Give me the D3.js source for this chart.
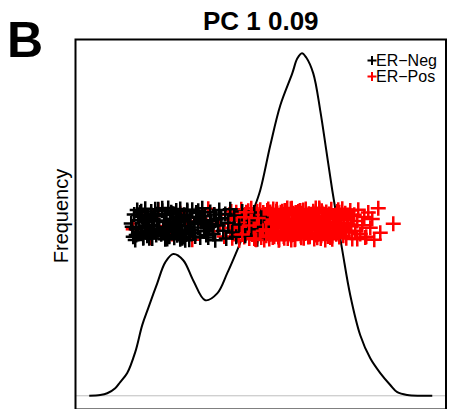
<!DOCTYPE html>
<html>
<head>
<meta charset="utf-8">
<script src="https://cdn.jsdelivr.net/npm/d3@7"></script>
<style>
  body { margin: 0; background: #fff; }
  svg { display: block; font-family: "Liberation Sans", Arial, sans-serif; }
</style>
</head>
<body>
<svg id="chart" width="454" height="409"></svg>
<script>
// density curve of PC1 scores (x = score, y = density)
const densityX = [-1.71, -1.60, -1.53, -1.45, -1.40, -1.33, -1.25, -1.18, -1.12, -1.03, -0.95, -0.87, -0.77, -0.67,
  -0.55, -0.43, -0.33, -0.23, -0.15, -0.07, 0.00, 0.10, 0.20, 0.32, 0.37, 0.417, 0.46, 0.53, 0.60, 0.66, 0.72,
  0.82, 0.90, 1.00, 1.10, 1.20, 1.30, 1.37, 1.47, 1.60, 1.72];
const densityY = [0, 0.002, 0.007, 0.021, 0.038, 0.063, 0.121, 0.196, 0.243, 0.312, 0.370, 0.393, 0.376, 0.320,
  0.265, 0.284, 0.340, 0.404, 0.459, 0.514, 0.570, 0.694, 0.805, 0.894, 0.935, 0.950, 0.938, 0.894, 0.791, 0.681, 0.570,
  0.404, 0.279, 0.168, 0.104, 0.063, 0.030, 0.010, 0.002, 0, 0];

// ER-Neg samples (PC1 score, jittered height)
const negX = [-1.29, -1.27, -1.26, -1.24, -1.23, -1.22, -1.21, -1.25, -1.28, -1.20,
  -1.19, -1.18, -1.17, -1.16, -1.15, -1.14, -1.13, -1.12, -1.11, -1.10, -1.09, -1.08, -1.07, -1.06, -1.05, -1.04, -1.03, -1.02, -1.01, -1.17, -1.13, -1.08,
  -0.99, -0.98, -0.97, -0.96, -0.95, -0.94, -0.93, -0.92, -0.91, -0.90, -0.89, -0.88, -0.87, -0.86, -0.85, -0.84, -0.83, -0.82, -0.81, -0.97, -0.93, -0.89, -0.86, -0.83,
  -0.80, -0.79, -0.78, -0.77, -0.76, -0.75, -0.74, -0.73, -0.72, -0.71, -0.70, -0.69, -0.68, -0.67, -0.66, -0.65, -0.63, -0.62, -0.61, -0.78,
  -0.59, -0.58, -0.56, -0.55, -0.53, -0.52, -0.50, -0.49, -0.47, -0.46, -0.45, -0.44, -0.42, -0.41, -0.54,
  -0.39, -0.37, -0.35, -0.34, -0.32, -0.30, -0.28, -0.26, -0.24, -0.21,
  -0.18, -0.15, -0.12, -0.09, -0.06, -0.03, 0.01, 0.04,
  -1.24, -1.19, -1.15, -1.11, -1.06, -1.02, -0.98, -0.94, -0.91, -0.87, -0.84, -0.80, -0.76, -0.73, -0.70,
  -0.66, -0.64, -0.60, -0.57, -0.51, -1.22, -1.14, -1.05, -0.95, -0.90, -0.82, -0.75, -0.69, -0.62, -0.48];
const negY = [0.478, 0.441, 0.503, 0.462, 0.515, 0.449, 0.487, 0.432, 0.469, 0.508,
  0.455, 0.496, 0.437, 0.481, 0.519, 0.466, 0.444, 0.499, 0.473, 0.452,
  0.511, 0.436, 0.490, 0.459, 0.505, 0.446, 0.484, 0.517, 0.463, 0.439,
  0.493, 0.471, 0.448, 0.513, 0.457, 0.486, 0.434, 0.501, 0.468, 0.521,
  0.443, 0.476, 0.509, 0.454, 0.491, 0.438, 0.465, 0.514, 0.482, 0.450,
  0.497, 0.461, 0.435, 0.506, 0.474, 0.445, 0.518, 0.488, 0.458, 0.440,
  0.502, 0.470, 0.447, 0.512, 0.483, 0.433, 0.495, 0.460, 0.516, 0.451,
  0.479, 0.442, 0.507, 0.467, 0.494, 0.437, 0.485, 0.520, 0.456, 0.498,
  0.464, 0.439, 0.510, 0.477, 0.449, 0.503, 0.431, 0.489, 0.472, 0.515,
  0.446, 0.492, 0.458, 0.504, 0.436, 0.480, 0.517, 0.453, 0.500, 0.441,
  0.475, 0.511, 0.444, 0.487, 0.462, 0.508, 0.434, 0.496, 0.469,
  0.446, 0.512, 0.470, 0.437, 0.498, 0.459, 0.520, 0.482, 0.441, 0.505,
  0.463, 0.434, 0.491, 0.515, 0.452, 0.476, 0.508, 0.439, 0.487, 0.468,
  0.501, 0.455, 0.517, 0.443, 0.480, 0.496, 0.431, 0.460, 0.513, 0.473];

// ER-Pos samples
const posX = [-1.27, -1.18, -1.10, -1.02, -0.96, -0.88, -0.80, -0.74, -0.68, -0.60, -0.52, -0.47, -0.40, -0.36, -0.31,
  -0.30, -0.29, -0.28, -0.27, -0.26, -0.25, -0.24, -0.23, -0.22, -0.21, -0.20, -0.19, -0.18, -0.17, -0.16, -0.15, -0.14, -0.13, -0.12, -0.11,
  -0.10, -0.09, -0.09, -0.08, -0.07, -0.07, -0.06, -0.05, -0.05, -0.04, -0.03, -0.03, -0.02, -0.01, -0.01, 0.00, 0.00, 0.01, 0.02, 0.02,
  0.03, 0.03, 0.04, 0.05, 0.05, 0.06, 0.06, 0.07, 0.07, 0.08, 0.08, 0.09, 0.09, 0.10, 0.10,
  0.11, 0.12, 0.13, 0.14, 0.15, 0.16, 0.17, 0.18, 0.19, 0.20, 0.21, 0.22, 0.23, 0.24, 0.25, 0.26, 0.27, 0.28, 0.29, 0.30,
  0.115, 0.125, 0.135, 0.145, 0.155, 0.165, 0.175, 0.185, 0.195, 0.205, 0.215, 0.225, 0.235, 0.245, 0.255, 0.265, 0.275, 0.285, 0.295, 0.305,
  0.31, 0.32, 0.33, 0.34, 0.35, 0.36, 0.37, 0.38, 0.39, 0.40, 0.41, 0.42, 0.43, 0.44, 0.45, 0.46, 0.47, 0.48, 0.49, 0.50,
  0.315, 0.325, 0.335, 0.345, 0.355, 0.365, 0.375, 0.385, 0.395, 0.405, 0.415, 0.425, 0.435, 0.445, 0.455, 0.465, 0.475, 0.485, 0.495, 0.505,
  0.51, 0.52, 0.53, 0.54, 0.55, 0.56, 0.57, 0.58, 0.59, 0.60, 0.61, 0.62, 0.63, 0.64, 0.65, 0.66, 0.67, 0.68, 0.69, 0.70,
  0.515, 0.525, 0.545, 0.555, 0.575, 0.585, 0.605, 0.615, 0.635, 0.645, 0.665, 0.675, 0.685, 0.695, 0.655,
  0.71, 0.72, 0.73, 0.74, 0.75, 0.76, 0.77, 0.78, 0.79, 0.80, 0.81, 0.82, 0.83, 0.84, 0.85, 0.86, 0.87, 0.88, 0.89, 0.90,
  0.72, 0.75, 0.79, 0.83, 0.87,
  0.91, 0.92, 0.94, 0.95, 0.97, 0.98, 1.00, 1.02, 1.04, 1.06, 1.08, 1.10,
  1.05, 1.12, 1.18, 1.20, 1.33, 1.14,
  -0.18, -0.14, -0.11, -0.06, -0.02, 0.03, 0.08, 0.13, 0.18, 0.22, 0.27, 0.31, 0.36, 0.40, 0.44, 0.49, 0.53, 0.57, 0.62, 0.66,
  0.70, 0.74, 0.78, 0.83, 0.87, -0.16, -0.04, 0.06, 0.16, 0.24, 0.34, 0.42, 0.51, 0.59, 0.68, 0.76, 0.85, 0.92, 0.97, 0.11];
const posY = [0.462, 0.497, 0.438, 0.515, 0.471, 0.449, 0.506, 0.483, 0.433, 0.491,
  0.519, 0.456, 0.477, 0.442, 0.502, 0.466, 0.511, 0.437, 0.488, 0.453,
  0.474, 0.509, 0.445, 0.494, 0.431, 0.468, 0.517, 0.459, 0.485, 0.440,
  0.500, 0.451, 0.479, 0.513, 0.436, 0.492, 0.464, 0.520, 0.447, 0.481,
  0.457, 0.505, 0.434, 0.473, 0.498, 0.443, 0.512, 0.469, 0.489, 0.450,
  0.516, 0.461, 0.439, 0.495, 0.476, 0.508, 0.454, 0.432, 0.486, 0.503,
  0.467, 0.444, 0.514, 0.480, 0.458, 0.499, 0.435, 0.472, 0.510, 0.448,
  0.490, 0.463, 0.518, 0.441, 0.484, 0.455, 0.507, 0.470, 0.433, 0.496,
  0.452, 0.512, 0.478, 0.437, 0.501, 0.465, 0.521, 0.446, 0.487, 0.460,
  0.504, 0.439, 0.475, 0.493, 0.449, 0.517, 0.468, 0.431, 0.482, 0.509,
  0.456, 0.497, 0.442, 0.514, 0.471, 0.488, 0.436, 0.503, 0.462, 0.519,
  0.445, 0.480, 0.506, 0.453, 0.434, 0.491, 0.474, 0.511, 0.458, 0.499,
  0.438, 0.466, 0.515, 0.485, 0.450, 0.502, 0.477, 0.440, 0.494, 0.461,
  0.520, 0.447, 0.483, 0.433, 0.508, 0.469, 0.496, 0.455, 0.513, 0.443,
  0.479, 0.500, 0.437, 0.464, 0.518, 0.452, 0.486, 0.505, 0.441, 0.473,
  0.492, 0.459, 0.512, 0.435, 0.481, 0.467, 0.498, 0.448, 0.516, 0.476,
  0.444, 0.507, 0.463, 0.489, 0.432, 0.510, 0.470, 0.454, 0.495, 0.439,
  0.501, 0.478, 0.446, 0.521, 0.460, 0.484, 0.436, 0.513, 0.468, 0.451,
  0.490, 0.442, 0.504, 0.475, 0.457, 0.517, 0.434, 0.497, 0.465, 0.482,
  0.448, 0.511, 0.471, 0.440, 0.493, 0.462, 0.519, 0.453, 0.487, 0.506,
  0.437, 0.476, 0.499, 0.455, 0.514, 0.443, 0.480, 0.509, 0.461, 0.492,
  0.470, 0.435, 0.502, 0.458, 0.485, 0.516, 0.449, 0.473, 0.496, 0.441,
  0.508, 0.466, 0.439, 0.490, 0.520, 0.452, 0.477, 0.433,
  0.447, 0.509, 0.472, 0.436, 0.493, 0.458, 0.518, 0.483, 0.440, 0.501,
  0.464, 0.432, 0.489, 0.514, 0.451, 0.477, 0.507, 0.438, 0.486, 0.469,
  0.502, 0.454, 0.516, 0.444, 0.479, 0.495, 0.433, 0.461, 0.512, 0.474,
  0.449, 0.506, 0.468, 0.521, 0.442, 0.490, 0.457, 0.499, 0.435, 0.481];

const groups = ['ER−Neg', 'ER−Pos'];
const groupColors = ['#000000', '#ff0000'];
const title = 'PC 1 0.09';
const panelLabel = 'B';
const yLabel = 'Frequency';

const margin = { top: 39.5, right: 8, bottom: -0.5, left: 75.5 };
const width = 454 - margin.left - margin.right;
const height = 409 - margin.top - margin.bottom;

const svg = d3.select('#chart');

// R style axes: 4% padding around data range
const xMin = d3.min(densityX), xMax = d3.max(densityX);
const xPad = (xMax - xMin) * 0.04;
const x = d3.scaleLinear().domain([xMin - xPad, xMax + xPad]).range([0, width]);
const yMax = d3.max(densityY);
const yPad = yMax * 0.04;
const y = d3.scaleLinear().domain([-yPad, yMax + yPad]).range([height, 0]);

const g = svg.append('g').attr('transform', `translate(${margin.left},${margin.top})`);

// zero line
g.append('line')
  .attr('x1', 0).attr('x2', width)
  .attr('y1', y(0)).attr('y2', y(0))
  .attr('stroke', '#bebebe').attr('stroke-width', 1);

// density line
const pts = densityX.map((d, i) => [d, densityY[i]]);
g.append('path')
  .datum(pts)
  .attr('fill', 'none')
  .attr('stroke', '#000')
  .attr('stroke-width', 2)
  .attr('d', d3.line().x(d => x(d[0])).y(d => y(d[1])).curve(d3.curveCatmullRom.alpha(0.5)));

// samples, interleaved so the groups overlap like in the original
const samples = [];
const n = Math.max(negX.length, posX.length);
for (let i = 0; i < n; i++) {
  if (i < negX.length) samples.push({ x: negX[i], y: negY[i], grp: 0 });
  if (i < posX.length) samples.push({ x: posX[i], y: posY[i], grp: 1 });
}

const arm = 7.5;
const plus = `M${-arm},0H${arm}M0,${-arm}V${arm}`;

g.selectAll('.pt')
  .data(samples)
  .enter().append('path')
  .attr('class', 'pt')
  .attr('transform', d => `translate(${x(d.x)},${y(d.y)})`)
  .attr('d', plus)
  .attr('stroke', d => groupColors[d.grp])
  .attr('stroke-width', 2.5)
  .attr('fill', 'none');

// box
g.append('rect')
  .attr('width', width).attr('height', height)
  .attr('fill', 'none').attr('stroke', '#000').attr('stroke-width', 2);

// legend
const legend = g.append('g').attr('transform', `translate(${width - 74},${21})`);
groups.forEach((name, i) => {
  const row = legend.append('g').attr('transform', `translate(0,${i * 16})`);
  row.append('path')
    .attr('d', 'M-4.5,0H4.5M0,-4.5V4.5')
    .attr('stroke', groupColors[i]).attr('stroke-width', 2);
  row.append('text')
    .attr('x', 4).attr('y', 5.5)
    .attr('font-size', 16)
    .text(name);
});

// title, panel letter, y label
svg.append('text')
  .attr('x', margin.left + width / 2).attr('y', 30)
  .attr('text-anchor', 'middle')
  .attr('font-size', 26).attr('font-weight', 'bold')
  .text(title);

svg.append('text')
  .attr('x', 7).attr('y', 57)
  .attr('font-size', 50).attr('font-weight', 'bold')
  .text(panelLabel);

svg.append('text')
  .attr('transform', `translate(68,216) rotate(-90)`)
  .attr('text-anchor', 'middle')
  .attr('font-size', 20)
  .text(yLabel);
</script>
</body>
</html>
